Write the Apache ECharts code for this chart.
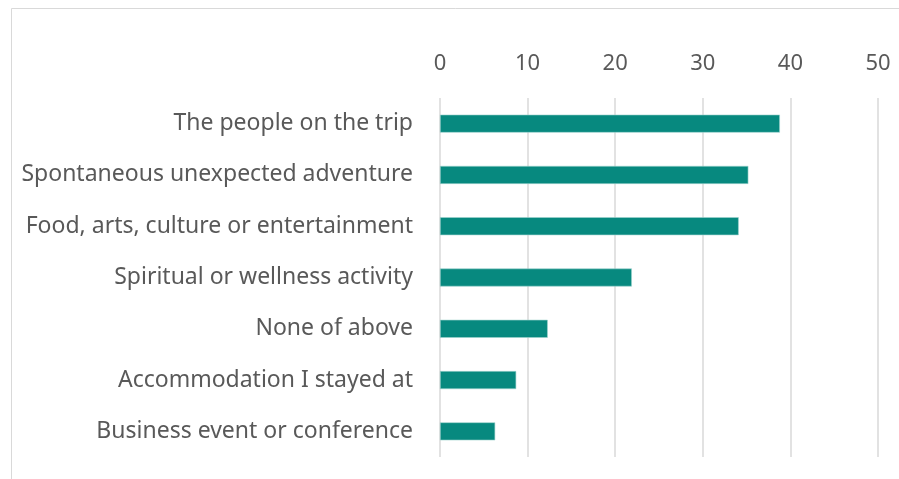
<!DOCTYPE html>
<html>
<head>
<meta charset="utf-8">
<script src="https://cdn.jsdelivr.net/npm/echarts@6/dist/echarts.min.js"></script>
<style>
  html, body { margin: 0; padding: 0; background: #fff; }
  #chart { width: 899px; height: 479px; }
</style>
</head>
<body>
<div id="chart"></div>
<script>
// categories listed bottom to top (ECharts category axis grows upward)
var categories = [
  'Business event or conference',
  'Accommodation I stayed at',
  'None of above',
  'Spiritual or wellness activity',
  'Food, arts, culture or entertainment',
  'Spontaneous unexpected adventure',
  'The people on the trip'
];
var values = [6.3, 8.7, 12.3, 21.9, 34.1, 35.2, 38.8];
var tickMin = 0;
var tickMax = 50;
var tickStep = 10;

var font = '"Noto Sans", "Open Sans", sans-serif';
var chart = echarts.init(document.getElementById('chart'));
chart.setOption({
  animation: false,
  backgroundColor: '#fff',
  graphic: [{
    type: 'rect',
    shape: { x: 11.5, y: 8.5, width: 1000, height: 1000 },
    style: { fill: 'none', stroke: '#d9d9d9', lineWidth: 1 },
    silent: true
  }],
  grid: { left: 440, right: 21, top: 98, bottom: 22 },
  xAxis: {
    type: 'value',
    position: 'top',
    min: tickMin,
    max: tickMax,
    interval: tickStep,
    axisLine: { show: false },
    axisTick: { show: false },
    axisLabel: { color: '#595959', fontSize: 22, fontFamily: font, margin: 23 },
    splitLine: { lineStyle: { color: '#d9d9d9', width: 1.5 } }
  },
  yAxis: {
    type: 'category',
    data: categories,
    axisLine: { show: false },
    axisTick: { show: false },
    axisLabel: { color: '#595959', fontSize: 23, fontFamily: font, margin: 27 }
  },
  series: [{
    type: 'bar',
    data: values,
    barWidth: 18,
    itemStyle: { color: '#07897f', borderColor: '#9fd3cf', borderWidth: 0.6 }
  }]
});
</script>
</body>
</html>
